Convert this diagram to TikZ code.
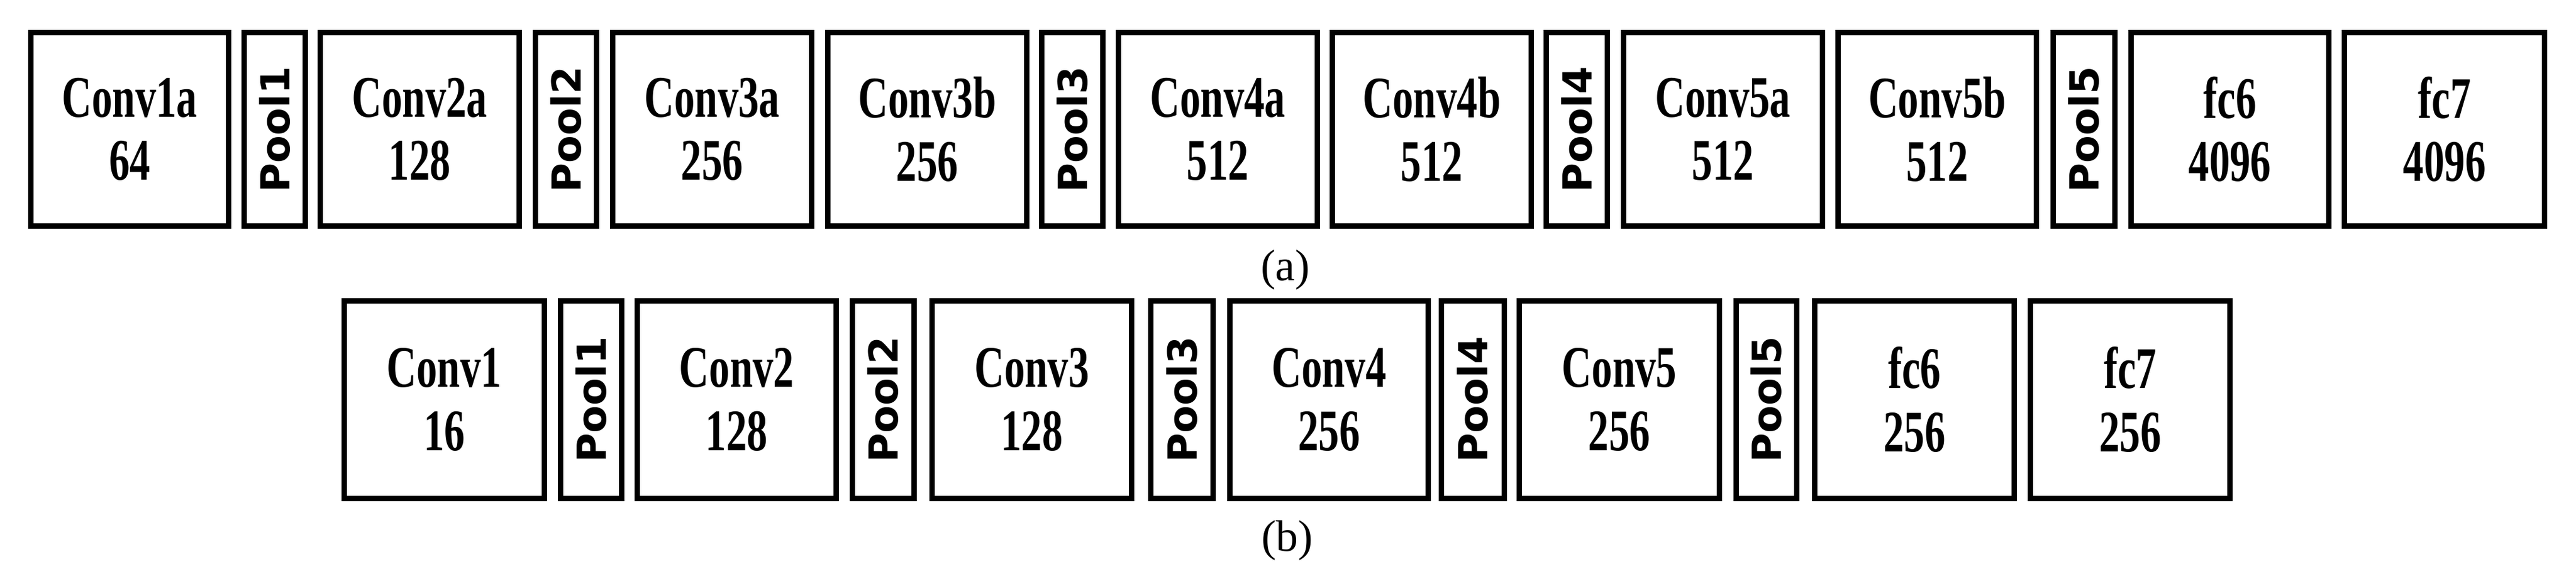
\documentclass[tikz,border=0pt]{standalone}
\usepackage{fontspec}
\setmainfont{Liberation Serif}
\newfontfamily\poolfont{DejaVu Sans}
\usepackage{graphicx}
\newcommand\sq[1]{\scalebox{0.7}[1]{#1}}
\newcommand\blk[7]{%
  \pgfmathsetmacro\bw{(#3-#2-9)*0.01}\pgfmathsetmacro\bh{(#5-#4-9)*0.01}%
  \node[#6, minimum width=\bw cm, minimum height=\bh cm] (#1) at ({(#2+#3)/200},{-(#4+#5)/200}) {#7};}
\newcommand\cv[2]{\sq{#1}\\\sq{#2}}
\newcommand\pl[1]{\rotatebox{90}{\poolfont\bfseries #1}}
\begin{document}
\begin{tikzpicture}[
  box/.style={draw=black, line width=2.6pt, inner sep=0pt, fill=white},
  convbox/.style={box, align=center, font=\fontsize{28}{30}\selectfont\bfseries},
  poolbox/.style={box, font=\fontsize{19}{20}\selectfont},
  captext/.style={font=\fontsize{21}{22}\selectfont}]
\useasboundingbox (0,0) rectangle (42.99,-9.66);
% row (a)
\blk{c1a}{47}{386}{50}{382}{convbox}{\cv{Conv1a}{64}}
\blk{p1a}{403}{514}{50}{382}{poolbox}{\pl{Pool1}}
\blk{c2a}{530}{871}{50}{382}{convbox}{\cv{Conv2a}{128}}
\blk{p2a}{889}{1000}{50}{382}{poolbox}{\pl{Pool2}}
\blk{c3a}{1018}{1359}{50}{382}{convbox}{\cv{Conv3a}{256}}
\blk{c3b}{1377}{1718}{50}{382}{convbox}{\cv{Conv3b}{256}}
\blk{p3a}{1734}{1845}{50}{382}{poolbox}{\pl{Pool3}}
\blk{c4a}{1862}{2203}{50}{382}{convbox}{\cv{Conv4a}{512}}
\blk{c4b}{2219}{2560}{50}{382}{convbox}{\cv{Conv4b}{512}}
\blk{p4a}{2576}{2687}{50}{382}{poolbox}{\pl{Pool4}}
\blk{c5a}{2705}{3046}{50}{382}{convbox}{\cv{Conv5a}{512}}
\blk{c5b}{3063}{3403}{50}{382}{convbox}{\cv{Conv5b}{512}}
\blk{p5a}{3422}{3534}{50}{382}{poolbox}{\pl{Pool5}}
\blk{f6a}{3552}{3891}{50}{382}{convbox}{\cv{fc6}{4096}}
\blk{f7a}{3908}{4251}{50}{382}{convbox}{\cv{fc7}{4096}}
\node[captext] (capa) at (21.45,-4.51) {(a)};
% row (b)
\blk{c1b}{570}{913}{498}{837}{convbox}{\cv{Conv1}{16}}
\blk{p1b}{931}{1042}{498}{837}{poolbox}{\pl{Pool1}}
\blk{c2b}{1059}{1400}{498}{837}{convbox}{\cv{Conv2}{128}}
\blk{p2b}{1418}{1530}{498}{837}{poolbox}{\pl{Pool2}}
\blk{c3b2}{1551}{1893}{498}{837}{convbox}{\cv{Conv3}{128}}
\blk{p3b}{1916}{2029}{498}{837}{poolbox}{\pl{Pool3}}
\blk{c4b2}{2048}{2388}{498}{837}{convbox}{\cv{Conv4}{256}}
\blk{p4b}{2401}{2515}{498}{837}{poolbox}{\pl{Pool4}}
\blk{c5b2}{2531}{2874}{498}{837}{convbox}{\cv{Conv5}{256}}
\blk{p5b}{2893}{3003}{498}{837}{poolbox}{\pl{Pool5}}
\blk{f6b}{3024}{3366}{498}{837}{convbox}{\cv{fc6}{256}}
\blk{f7b}{3384}{3726}{498}{837}{convbox}{\cv{fc7}{256}}
\node[captext] (capb) at (21.48,-9.03) {(b)};
\end{tikzpicture}
\end{document}
